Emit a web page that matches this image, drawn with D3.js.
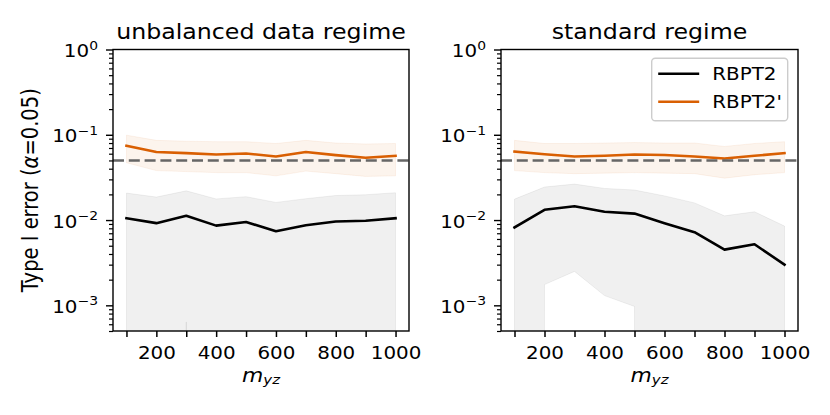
<!DOCTYPE html>
<html>
<head>
<meta charset="utf-8">
<script src="https://cdn.jsdelivr.net/npm/d3@7"></script>
<style>
  body { margin: 0; background: #fff; }
  text { font-family: "DejaVu Sans", sans-serif; fill: #000; }
</style>
</head>
<body>
<div id="chart"></div>
<script>
// x values (m_yz)
var mYZ = [100, 200, 300, 400, 500, 600, 700, 800, 900, 1000];

// unbalanced data regime
var unbRBPT2      = [0.0105, 0.0092, 0.0112, 0.0086, 0.0095, 0.0074, 0.0087, 0.0096, 0.0098, 0.0105];
var unbRBPT2Low   = [0, 0, 0.00064, 0, 0, 0, 0, 0, 0, 0];
var unbRBPT2High  = [0.0207, 0.0186, 0.0220, 0.0177, 0.0188, 0.0161, 0.0178, 0.0194, 0.0198, 0.0209];
var unbRBPT2p     = [0.0743, 0.0627, 0.0609, 0.0588, 0.0603, 0.0556, 0.0627, 0.0577, 0.0537, 0.0567];
var unbRBPT2pLow  = [0.047, 0.038, 0.037, 0.036, 0.036, 0.033, 0.0375, 0.035, 0.0325, 0.033];
var unbRBPT2pHigh = [0.099, 0.086, 0.084, 0.083, 0.083, 0.079, 0.086, 0.080, 0.078, 0.079];

// standard regime
var stdRBPT2      = [0.0082, 0.0132, 0.0145, 0.0125, 0.0119, 0.0092, 0.0072, 0.0045, 0.0052, 0.0030];
var stdRBPT2Low   = [0, 0.00175, 0.0025, 0.0013, 0.00097, 0, 0, 0, 0, 0];
var stdRBPT2High  = [0.0176, 0.0244, 0.0264, 0.0235, 0.0225, 0.0192, 0.0159, 0.0112, 0.0125, 0.0085];
var stdRBPT2p     = [0.0635, 0.059, 0.0556, 0.0567, 0.0588, 0.058, 0.0556, 0.0528, 0.0567, 0.061];
var stdRBPT2pLow  = [0.038, 0.036, 0.035, 0.0355, 0.036, 0.0355, 0.035, 0.031, 0.034, 0.036];
var stdRBPT2pHigh = [0.086, 0.079, 0.079, 0.080, 0.081, 0.080, 0.080, 0.073, 0.079, 0.083];

var alphaLevel = 0.05;
var xTickLabels = [200, 400, 600, 800, 1000];
var yMajor = [1, 0.1, 0.01, 0.001];
var yMajorExp = ["0", "\u22121", "\u22122", "\u22123"];
var yMinor = [0.0005, 0.0006, 0.0007, 0.0008, 0.0009,
              0.002, 0.003, 0.004, 0.005, 0.006, 0.007, 0.008, 0.009,
              0.02, 0.03, 0.04, 0.05, 0.06, 0.07, 0.08, 0.09,
              0.2, 0.3, 0.4, 0.5, 0.6, 0.7, 0.8, 0.9];
var seriesNames = ["RBPT2", "RBPT2'"];
var colors = ["#000000", "#d95f02"];

// the source picture is a bit wider than tall, so text is stretched sideways
var SX = 1.15;

var svg = d3.select("#chart").append("svg")
  .attr("width", 830)
  .attr("height", 415);
svg.append("rect").attr("width", 830).attr("height", 415).attr("fill", "#fff");

var plotTop = 49.5, plotBottom = 331;

var panels = [
  { title: "unbalanced data regime", left: 113, right: 409,
    lines: [unbRBPT2, unbRBPT2p], lows: [unbRBPT2Low, unbRBPT2pLow], highs: [unbRBPT2High, unbRBPT2pHigh] },
  { title: "standard regime", left: 501, right: 798,
    lines: [stdRBPT2, stdRBPT2p], lows: [stdRBPT2Low, stdRBPT2pLow], highs: [stdRBPT2High, stdRBPT2pHigh], legend: true }
];

panels.forEach(function(p, i) {
  var width = p.right - p.left;
  var height = plotBottom - plotTop;

  var x = d3.scaleLinear().domain([55, 1045]).range([0, width]);
  var y = d3.scaleLog().domain([0.0005, 1]).range([height, 0]);
  // zero values go far below the axes, like matplotlib's log clipping
  var ySafe = function(v) { return v > 0 ? y(v) : y(1e-300); };

  var g = svg.append("g").attr("transform", "translate(" + p.left + "," + plotTop + ")");

  g.append("clipPath").attr("id", "clip" + i)
    .append("rect").attr("width", width).attr("height", height);

  var plot = g.append("g").attr("clip-path", "url(#clip" + i + ")");

  // bands
  [0, 1].forEach(function(s) {
    var area = d3.area()
      .x(function(d, k) { return x(mYZ[k]); })
      .y0(function(d, k) { return ySafe(p.lows[s][k]); })
      .y1(function(d, k) { return ySafe(p.highs[s][k]); });
    plot.append("path")
      .datum(p.highs[s])
      .attr("d", area)
      .attr("fill", colors[s])
      .attr("fill-opacity", s == 0 ? 0.059 : 0.07)
      .attr("stroke", colors[s])
      .attr("stroke-opacity", s == 0 ? 0.059 : 0.07)
      .attr("stroke-width", 1);
  });

  // mean lines
  [0, 1].forEach(function(s) {
    var line = d3.line()
      .x(function(d, k) { return x(mYZ[k]); })
      .y(function(d) { return y(d); });
    plot.append("path")
      .datum(p.lines[s])
      .attr("d", line)
      .attr("fill", "none")
      .attr("stroke", colors[s])
      .attr("stroke-width", 2.6)
      .attr("stroke-linejoin", "round")
      .attr("stroke-linecap", "square");
  });

  // alpha level
  plot.append("line")
    .attr("x1", 0).attr("x2", width)
    .attr("y1", y(alphaLevel)).attr("y2", y(alphaLevel))
    .attr("stroke", "#666")
    .attr("stroke-width", 2.6)
    .attr("stroke-dasharray", "11,4.8");

  // x axis
  var xAxis = d3.axisBottom(x).tickValues(mYZ).tickSize(6).tickSizeOuter(0)
    .tickFormat(function(d) { return xTickLabels.indexOf(d) >= 0 ? d : ""; });
  var gx = g.append("g").attr("transform", "translate(0," + height + ")").call(xAxis);
  gx.select(".domain").remove();
  gx.selectAll(".tick line").attr("stroke", "#000").attr("stroke-width", 1.5);
  gx.selectAll(".tick text")
    .attr("y", null).attr("dy", null)
    .attr("transform", "translate(0,28) scale(" + SX + ",1)")
    .attr("font-size", "17.3px");

  // y axis, minor then major
  var gyMinor = g.append("g").call(d3.axisLeft(y).tickValues(yMinor).tickSize(4).tickFormat(""));
  gyMinor.select(".domain").remove();
  gyMinor.selectAll(".tick line").attr("stroke", "#000").attr("stroke-width", 1.2);

  var gy = g.append("g").call(d3.axisLeft(y).tickValues(yMajor).tickSize(7).tickFormat(""));
  gy.select(".domain").remove();
  gy.selectAll(".tick line").attr("stroke", "#000").attr("stroke-width", 1.4);
  gy.selectAll(".tick").append("text")
    .attr("transform", "translate(-15,7) scale(" + SX + ",1)")
    .attr("text-anchor", "end")
    .attr("font-size", "17.3px")
    .each(function(d, k) {
      var t = d3.select(this);
      t.append("tspan").text("10");
      t.append("tspan").attr("font-size", "12.1px").attr("dy", -7.5).text(yMajorExp[k]);
    });

  // frame
  g.append("rect")
    .attr("width", width).attr("height", height)
    .attr("fill", "none").attr("stroke", "#000").attr("stroke-width", 1.4);

  // title
  g.append("text")
    .attr("transform", "translate(" + width / 2 + ",-11) scale(" + SX + ",1)")
    .attr("text-anchor", "middle")
    .attr("font-size", "20.6px")
    .text(p.title);

  // x label
  var xl = g.append("text")
    .attr("transform", "translate(" + width / 2 + "," + (height + 50.5) + ") scale(" + SX + ",1)")
    .attr("text-anchor", "middle")
    .attr("font-size", "19px")
    .attr("font-style", "italic");
  xl.append("tspan").text("m");
  xl.append("tspan").attr("font-size", "13px").attr("dy", 2.5).text("yz");

  // legend
  if (p.legend) {
    var lg = g.append("g").attr("transform", "translate(" + (651.7 - p.left) + "," + (58.3 - plotTop) + ")");
    lg.append("rect")
      .attr("width", 136).attr("height", 62.4)
      .attr("rx", 3.5).attr("ry", 3.5)
      .attr("fill", "#fff").attr("fill-opacity", 0.8)
      .attr("stroke", "#cccccc").attr("stroke-width", 1.4);
    seriesNames.forEach(function(name, s) {
      var yy = 15.4 + s * 28;
      lg.append("line")
        .attr("x1", 6.5).attr("x2", 47.5)
        .attr("y1", yy).attr("y2", yy)
        .attr("stroke", colors[s]).attr("stroke-width", 2.6);
      lg.append("text")
        .attr("transform", "translate(60.5," + (yy + 6.3) + ") scale(" + SX + ",1)")
        .attr("font-size", "17.3px")
        .text(name);
    });
  }
});

// y label, shared on the left
var yl = svg.append("text")
  .attr("transform", "translate(37.5," + ((plotTop + plotBottom) / 2) + ") scale(" + SX + ",1) rotate(-90)")
  .attr("text-anchor", "middle")
  .attr("font-size", "19.5px");
yl.append("tspan").text("Type I error (");
yl.append("tspan").attr("font-style", "italic").text("\u03b1");
yl.append("tspan").text("=0.05)");
</script>
</body>
</html>
